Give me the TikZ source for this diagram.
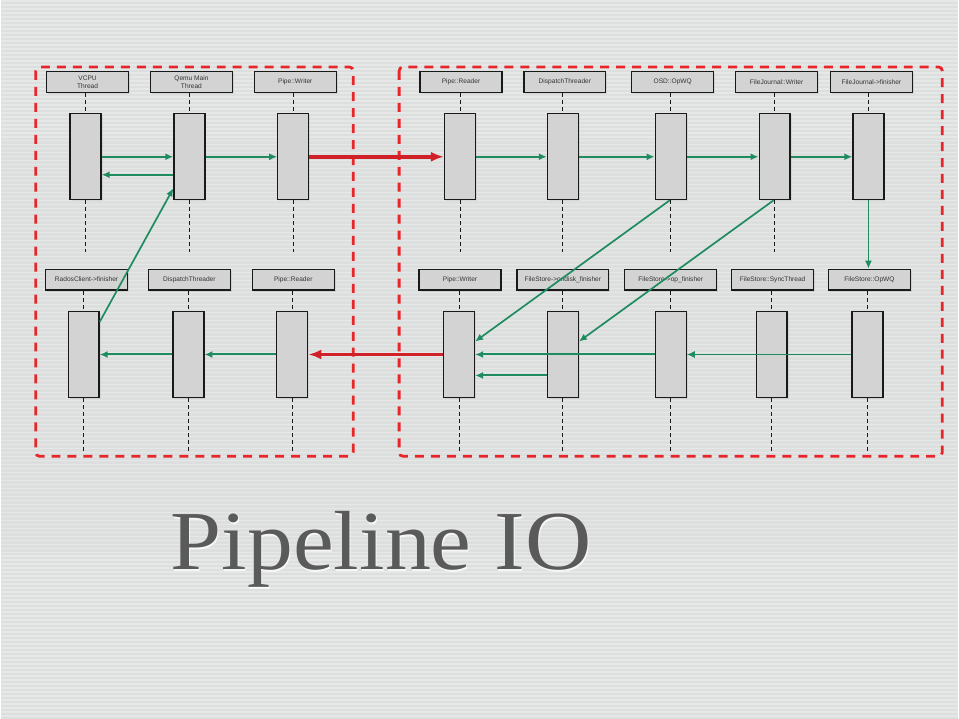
\documentclass[tikz,border=0pt]{standalone}
\usepackage{fontspec}
\setsansfont{Liberation Sans}
\setmainfont{Liberation Serif}
\usetikzlibrary{arrows.meta,shadows}
\definecolor{bgcol}{HTML}{DDDFDF}
\definecolor{stripecol}{HTML}{EDEFEF}
\definecolor{arrowgreen}{HTML}{1E8C5E}
\definecolor{boxred}{HTML}{E8262A}
\definecolor{arrowred}{HTML}{CF2127}
\definecolor{boxfill}{HTML}{D3D3D3}
\definecolor{titlegray}{HTML}{5A5A5A}
\begin{document}
\begin{tikzpicture}[x=1pt,y=-1pt,
  hdr/.style={draw=black!90, line width=1.2pt, fill=boxfill, minimum width=82pt, minimum height=21pt,
    inner sep=1pt, font=\sffamily\fontsize{6.6}{7.8}\selectfont, text=black!80, align=center,
    drop shadow={shadow xshift=1.5pt, shadow yshift=-1.5pt, opacity=.18}},
  act/.style={draw=black!90, line width=1.2pt, fill=boxfill, minimum width=31pt, minimum height=86pt,
    inner sep=0pt, drop shadow={shadow xshift=1.5pt, shadow yshift=-1.5pt, opacity=.15}},
  life/.style={black!90, line width=1pt, dash pattern=on 4pt off 3pt},
  garrow/.style={arrowgreen, line width=2pt, -{Latex[length=8pt,width=7pt]}},
  gdiag/.style={arrowgreen, line width=1.7pt, -{Latex[length=8pt,width=7pt]}},
  gthin/.style={arrowgreen, line width=1.2pt, -{Latex[length=8pt,width=7pt]}},
  rarrow/.style={arrowred, line width=3.5pt, -{Latex[length=13pt,width=10pt]}},
  groupbox/.style={boxred, line width=2.8pt, dash pattern=on 9pt off 7pt, rounded corners=4pt}
]
% background
\fill[bgcol] (0,0) rectangle (959,720);
\foreach \yy in {1,5,...,717} \draw[stripecol, opacity=.6, line width=1.4pt] (0,\yy) -- (959,\yy);
\useasboundingbox (0,0) rectangle (959,720);

% group boxes
\draw[groupbox] (35,67) rectangle (353,457);
\draw[groupbox] (399,67) rectangle (943,457);

% top headers
\node[hdr] (hVCPU) at (87,82) {VCPU\\Thread};
\node[hdr] (hQemu) at (191,82) {Qemu Main\\Thread};
\node[hdr] (hPW)   at (295,82) {Pipe::Writer};
\node[hdr] (hPR)   at (461,82) {Pipe::Reader};
\node[hdr] (hDT)   at (565,82) {DispatchThreader};
\node[hdr] (hOSD)  at (673,82) {OSD::OpWQ};
\node[hdr] (hFJW)  at (777,82) {FileJournal::Writer};
\node[hdr] (hFJF)  at (872,82) {FileJournal-\textgreater finisher};

% top activation boxes
\node[act] (aVCPU) at (85,157) {};
\node[act] (aQemu) at (189,157) {};
\node[act] (aPW)   at (293,157) {};
\node[act] (aPR)   at (460,157) {};
\node[act] (aDT)   at (563,157) {};
\node[act] (aOSD)  at (671,157) {};
\node[act] (aFJW)  at (775,157) {};
\node[act] (aFJF)  at (869,157) {};

% bottom headers
\node[hdr] (hRC)   at (86,280) {RadosClient-\textgreater finisher};
\node[hdr] (hDT2)  at (189,280) {DispatchThreader};
\node[hdr] (hPR2)  at (293,280) {Pipe::Reader};
\node[hdr] (hPW2)  at (460,280) {Pipe::Writer};
\node[hdr, minimum width=92pt] (hOnD) at (563,280) {FileStore-\textgreater ondisk\_finisher};
\node[hdr, minimum width=92pt] (hOpF) at (671,280) {FileStore-\textgreater op\_finisher};
\node[hdr] (hSync) at (773,280) {FileStore::SyncThread};
\node[hdr] (hOpWQ) at (870,280) {FileStore::OpWQ};

% bottom activation boxes
\node[act] (bRC)   at (83,355) {};
\node[act] (bDT)   at (188,355) {};
\node[act] (bPR)   at (292,355) {};
\node[act] (bPW)   at (459,355) {};
\node[act] (bOnD)  at (563,355) {};
\node[act] (bOpF)  at (671,355) {};
\node[act] (bSync) at (772,355) {};
\node[act] (bOpWQ) at (868,355) {};

% lifelines top
\foreach \h/\a in {hVCPU/aVCPU,hQemu/aQemu,hPW/aPW,hPR/aPR,hDT/aDT,hOSD/aOSD,hFJW/aFJW,hFJF/aFJF}{
  \draw[life] (\h.south -| \a.north) -- (\a.north);
  \draw[life] (\a.south) -- ++(0,52);
}
% lifelines bottom
\foreach \h/\a in {hRC/bRC,hDT2/bDT,hPR2/bPR,hPW2/bPW,hOnD/bOnD,hOpF/bOpF,hSync/bSync,hOpWQ/bOpWQ}{
  \draw[life] (\h.south -| \a.north) -- (\a.north);
  \draw[life] (\a.south) -- ++(0,54);
}

% top arrows
\draw[garrow] (aVCPU.east) -- (aQemu.west);
\draw[garrow] ([yshift=-18pt]aQemu.west) -- ([yshift=-18pt]aVCPU.east);
\draw[garrow] (aQemu.east) -- (aPW.west);
\draw[rarrow] (aPW.east) -- (aPR.west);
\draw[garrow] (aPR.east) -- (aDT.west);
\draw[garrow] (aDT.east) -- (aOSD.west);
\draw[garrow] (aOSD.east) -- (aFJW.west);
\draw[garrow] (aFJW.east) -- (aFJF.west);

% diagonal and vertical arrows
\draw[gdiag] ([yshift=-11pt]bRC.north east) -- ([yshift=12pt]aQemu.south west);
\draw[gdiag] ([xshift=-1pt]aOSD.south) -- ([yshift=13pt]bPW.east);
\draw[gdiag] ([xshift=-1pt]aFJW.south) -- ([yshift=13pt]bOnD.east);
\draw[gthin] (aFJF.south) -- (hOpWQ.north -| aFJF.south);

% bottom arrows
\draw[gthin] (bOpWQ.west) -- (bOpF.east);
\draw[garrow] (bOpF.west) -- (bPW.east);
\draw[garrow] ([yshift=-21pt]bOnD.west) -- ([yshift=-21pt]bPW.east);
\draw[rarrow] (bPW.west) -- (bPR.east);
\draw[garrow] (bPR.west) -- (bDT.east);
\draw[garrow] (bDT.west) -- (bRC.east);

% title
\node[font=\fontsize{84}{84}\selectfont, text=white, opacity=.75, anchor=base west, inner sep=0pt, xscale=1.095] at (171,572) {Pipeline IO};
\node[font=\fontsize{84}{84}\selectfont, text=titlegray, anchor=base west, inner sep=0pt, xscale=1.095] (title) at (170,570.5) {Pipeline IO};
\end{tikzpicture}
\end{document}
